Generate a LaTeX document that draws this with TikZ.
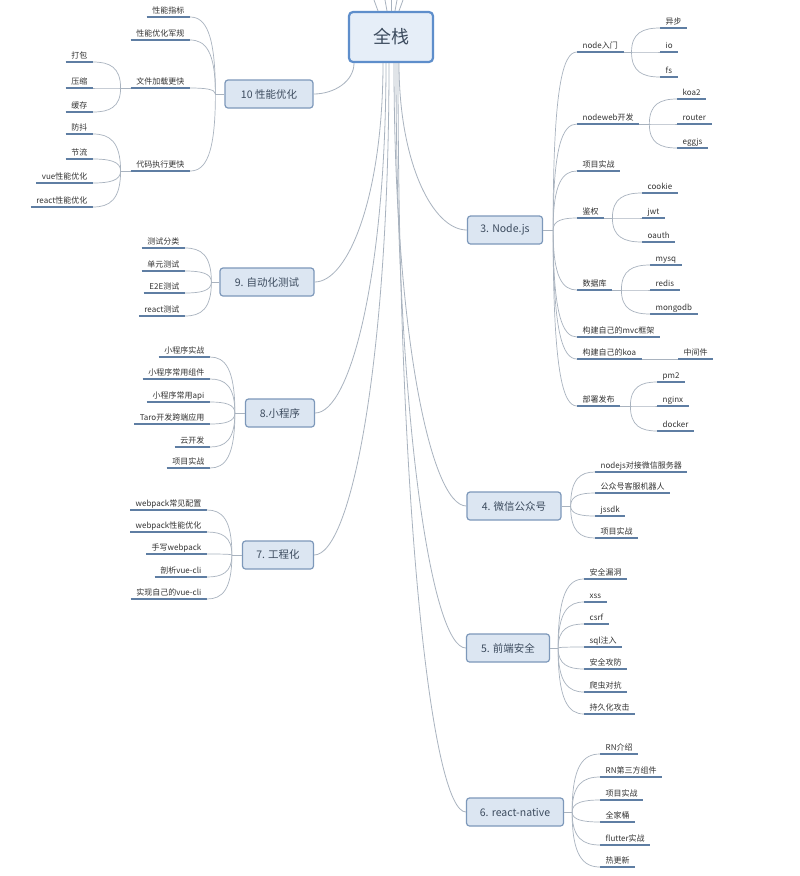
\documentclass[tikz,border=0pt]{standalone}
\usepackage{fontspec}
\setmainfont{Noto Sans CJK SC}
\usetikzlibrary{calc}
\definecolor{ulc}{HTML}{5F7EA3}
\definecolor{lnc}{HTML}{A9B3BF}
\definecolor{txc}{HTML}{333333}
\definecolor{bxf}{HTML}{DCE6F2}
\definecolor{bxd}{HTML}{7D98BA}
\definecolor{rtf}{HTML}{E6EEF8}
\definecolor{rtd}{HTML}{5E8ECB}
\definecolor{rtx}{HTML}{3C4B5E}
\newcommand\lk[2]{\draw[conn] (#1) .. controls ($(#1)!0.8!(#1 |- #2)$) and ($(#2)!0.6!(#1 |- #2)$) .. (#2);}
\newcommand\rk[2]{\draw[mconn] (#1) .. controls ($(#1)!0.6!(#1 |- #2)$) and ($(#2)!0.5!(#1 |- #2)$) .. (#2);}
\begin{document}
\begin{tikzpicture}[x=1pt,y=-1pt,
  conn/.style={draw=lnc, line width=0.7pt},
  mconn/.style={draw=lnc, line width=0.8pt},
  ul/.style={draw=ulc, line width=2.2pt},
  leafbase/.style={font=\fontsize{8}{9.5}\selectfont, text=txc, inner xsep=5.5pt, inner ysep=1.6pt,
     text height=6.8pt, text depth=1.5pt,
     append after command={\pgfextra{\let\mynode\tikzlastnode}(\mynode.south west) edge[ul] (\mynode.south east)}},
  L/.style={leafbase, anchor=south east},
  R/.style={leafbase, anchor=south west},
  br/.style={draw=bxd, fill=bxf, line width=1.2pt, rounded corners=3pt, minimum height=28pt,
     font=\fontsize{10.5}{12}\selectfont, text=rtx},
  root/.style={draw=rtd, fill=rtf, line width=2.2pt, rounded corners=4pt, minimum width=84pt,
     minimum height=50pt, font=\fontsize{18}{20}\selectfont, text=rtx}]
\useasboundingbox (0,0) rectangle (800,876);
\fill[white] (0,0) rectangle (800,876);

% root
\node[root] (root) at (391,37) {全栈};

% branches
\node[br, minimum width=88pt] (b10) at (269,94) {10 性能优化};
\node[br, minimum width=94pt] (b9) at (267,282) {9. 自动化测试};
\node[br, minimum width=69pt] (b8) at (280,413) {8.小程序};
\node[br, minimum width=71pt] (b7) at (278,555) {7. 工程化};
\node[br, minimum width=75pt] (b3) at (505,230) {3. Node.js};
\node[br, minimum width=94pt] (b4) at (514,506) {4. 微信公众号};
\node[br, minimum width=83pt] (b5) at (508,648) {5. 前端安全};
\node[br, minimum width=97pt] (b6) at (515,812) {6. react-native};

% root connectors
\coordinate (r10) at ([xshift=-37pt]root.south);
\coordinate (r9) at ([xshift=-8pt]root.south);
\coordinate (r8) at ([xshift=-5pt]root.south);
\coordinate (r7) at ([xshift=-2pt]root.south);
\coordinate (r3) at ([xshift=8pt]root.south);
\coordinate (r4) at ([xshift=3pt]root.south);
\coordinate (r5) at ([xshift=5pt]root.south);
\coordinate (r6) at ([xshift=7pt]root.south);
\rk{r10}{b10.east}
\rk{r9}{b9.east}
\rk{r8}{b8.east}
\rk{r7}{b7.east}
\rk{r3}{b3.west}
\rk{r4}{b4.west}
\rk{r5}{b5.west}
\rk{r6}{b6.west}
% lines leaving upward
\coordinate (ru1) at ([xshift=-13pt]root.north);
\coordinate (ru2) at ([xshift=-4pt]root.north);
\coordinate (ru3) at ([xshift=0pt]root.north);
\coordinate (ru4) at ([xshift=4pt]root.north);
\coordinate (ru5) at ([xshift=8pt]root.north);
\coordinate (tu1) at (374,0);
\coordinate (tu2) at (385,0);
\coordinate (tu3) at (391,0);
\coordinate (tu4) at (397,0);
\coordinate (tu5) at (403,0);
\foreach \i in {1,...,5} {\draw[mconn] (ru\i) -- (tu\i);}

% ---------- 10 ----------
\coordinate (c10) at ([xshift=-9pt]b10.west);
\draw[conn] (b10.west) -- (c10);
\node[L] (p1) at (190,17) {性能指标};
\node[L] (p2) at (190,40) {性能优化军规};
\node[L] (p3) at (190,88) {文件加载更快};
\node[L] (p4) at (190,171) {代码执行更快};
\foreach \n in {p1,p2,p3,p4} {\lk{c10}{\n.south east}}
\coordinate (c10a) at ([xshift=-10pt]p3.south west);
\draw[conn] (p3.south west) -- (c10a);
\node[L] (p31) at (93,62) {打包};
\node[L] (p32) at (93,88) {压缩};
\node[L] (p33) at (93,112) {缓存};
\foreach \n in {p31,p32,p33} {\lk{c10a}{\n.south east}}
\coordinate (c10b) at ([xshift=-10pt]p4.south west);
\draw[conn] (p4.south west) -- (c10b);
\node[L] (p41) at (93,134) {防抖};
\node[L] (p42) at (93,159) {节流};
\node[L] (p43) at (93,183) {vue性能优化};
\node[L] (p44) at (93,207) {react性能优化};
\foreach \n in {p41,p42,p43,p44} {\lk{c10b}{\n.south east}}

% ---------- 9 ----------
\coordinate (c9) at ([xshift=-8pt]b9.west);
\draw[conn] (b9.west) -- (c9);
\node[L] (q1) at (185,248) {测试分类};
\node[L] (q2) at (185,271) {单元测试};
\node[L] (q3) at (185,293) {E2E测试};
\node[L] (q4) at (185,316) {react测试};
\foreach \n in {q1,q2,q3,q4} {\lk{c9}{\n.south east}}

% ---------- 8 ----------
\coordinate (c8) at ([xshift=-10pt]b8.west);
\draw[conn] (b8.west) -- (c8);
\node[L] (s1) at (210,357) {小程序实战};
\node[L] (s2) at (210,379) {小程序常用组件};
\node[L] (s3) at (210,402) {小程序常用api};
\node[L] (s4) at (210,424) {Taro开发跨端应用};
\node[L] (s5) at (210,447) {云开发};
\node[L] (s6) at (210,468) {项目实战};
\foreach \n in {s1,s2,s3,s4,s5,s6} {\lk{c8}{\n.south east}}

% ---------- 7 ----------
\coordinate (c7) at ([xshift=-10pt]b7.west);
\draw[conn] (b7.west) -- (c7);
\node[L] (g1) at (207,510) {webpack常见配置};
\node[L] (g2) at (207,532) {webpack性能优化};
\node[L] (g3) at (207,554) {手写webpack};
\node[L] (g4) at (207,577) {剖析vue-cli};
\node[L] (g5) at (207,599) {实现自己的vue-cli};
\foreach \n in {g1,g2,g3,g4,g5} {\lk{c7}{\n.south east}}

% ---------- 3 Node.js ----------
\coordinate (c3) at ([xshift=10pt]b3.east);
\draw[conn] (b3.east) -- (c3);
\node[R] (n1) at (577,52) {node入门};
\node[R] (n2) at (577,124) {nodeweb开发};
\node[R] (n3) at (577,171) {项目实战};
\node[R] (n4) at (577,218) {鉴权};
\node[R] (n5) at (577,290) {数据库};
\node[R] (n6) at (577,337) {构建自己的mvc框架};
\node[R] (n7) at (577,359) {构建自己的koa};
\node[R] (n8) at (577,406) {部署发布};
\foreach \n in {n1,n2,n3,n4,n5,n6,n7,n8} {\lk{c3}{\n.south west}}
\coordinate (c3a) at ([xshift=8pt]n1.south east);
\draw[conn] (n1.south east) -- (c3a);
\node[R] (n11) at (660,28) {异步};
\node[R] (n12) at (660,52) {io};
\node[R] (n13) at (660,77) {fs};
\foreach \n in {n11,n12,n13} {\lk{c3a}{\n.south west}}
\coordinate (c3b) at ([xshift=10pt]n2.south east);
\draw[conn] (n2.south east) -- (c3b);
\node[R] (n21) at (677,99) {koa2};
\node[R] (n22) at (677,124) {router};
\node[R] (n23) at (677,148) {eggjs};
\foreach \n in {n21,n22,n23} {\lk{c3b}{\n.south west}}
\coordinate (c3c) at ([xshift=8pt]n4.south east);
\draw[conn] (n4.south east) -- (c3c);
\node[R] (n41) at (642,193) {cookie};
\node[R] (n42) at (642,218) {jwt};
\node[R] (n43) at (642,242) {oauth};
\foreach \n in {n41,n42,n43} {\lk{c3c}{\n.south west}}
\coordinate (c3d) at ([xshift=9pt]n5.south east);
\draw[conn] (n5.south east) -- (c3d);
\node[R] (n51) at (650,265) {mysq};
\node[R] (n52) at (650,290) {redis};
\node[R] (n53) at (650,314) {mongodb};
\foreach \n in {n51,n52,n53} {\lk{c3d}{\n.south west}}
\node[R] (n71) at (678,359) {中间件};
\draw[conn] (n7.south east) -- (n71.south west);
\coordinate (c3e) at ([xshift=10pt]n8.south east);
\draw[conn] (n8.south east) -- (c3e);
\node[R] (n81) at (657,382) {pm2};
\node[R] (n82) at (657,406) {nginx};
\node[R] (n83) at (657,431) {docker};
\foreach \n in {n81,n82,n83} {\lk{c3e}{\n.south west}}

% ---------- 4 ----------
\coordinate (c4) at ([xshift=9pt]b4.east);
\draw[conn] (b4.east) -- (c4);
\node[R] (w1) at (595,472) {nodejs对接微信服务器};
\node[R] (w2) at (595,493) {公众号客服机器人};
\node[R] (w3) at (595,516) {jssdk};
\node[R] (w4) at (595,538) {项目实战};
\foreach \n in {w1,w2,w3,w4} {\lk{c4}{\n.south west}}

% ---------- 5 ----------
\coordinate (c5) at ([xshift=8pt]b5.east);
\draw[conn] (b5.east) -- (c5);
\node[R] (a1) at (584,579) {安全漏洞};
\node[R] (a2) at (584,602) {xss};
\node[R] (a3) at (584,624) {csrf};
\node[R] (a4) at (584,647) {sql注入};
\node[R] (a5) at (584,669) {安全攻防};
\node[R] (a6) at (584,692) {爬虫对抗};
\node[R] (a7) at (584,714) {持久化攻击};
\foreach \n in {a1,a2,a3,a4,a5,a6,a7} {\lk{c5}{\n.south west}}

% ---------- 6 ----------
\coordinate (c6) at ([xshift=8pt]b6.east);
\draw[conn] (b6.east) -- (c6);
\node[R] (m1) at (600,754) {RN介绍};
\node[R] (m2) at (600,777) {RN第三方组件};
\node[R] (m3) at (600,800) {项目实战};
\node[R] (m4) at (600,822) {全家桶};
\node[R] (m5) at (600,845) {flutter实战};
\node[R] (m6) at (600,867) {热更新};
\foreach \n in {m1,m2,m3,m4,m5,m6} {\lk{c6}{\n.south west}}
\end{tikzpicture}
\end{document}
